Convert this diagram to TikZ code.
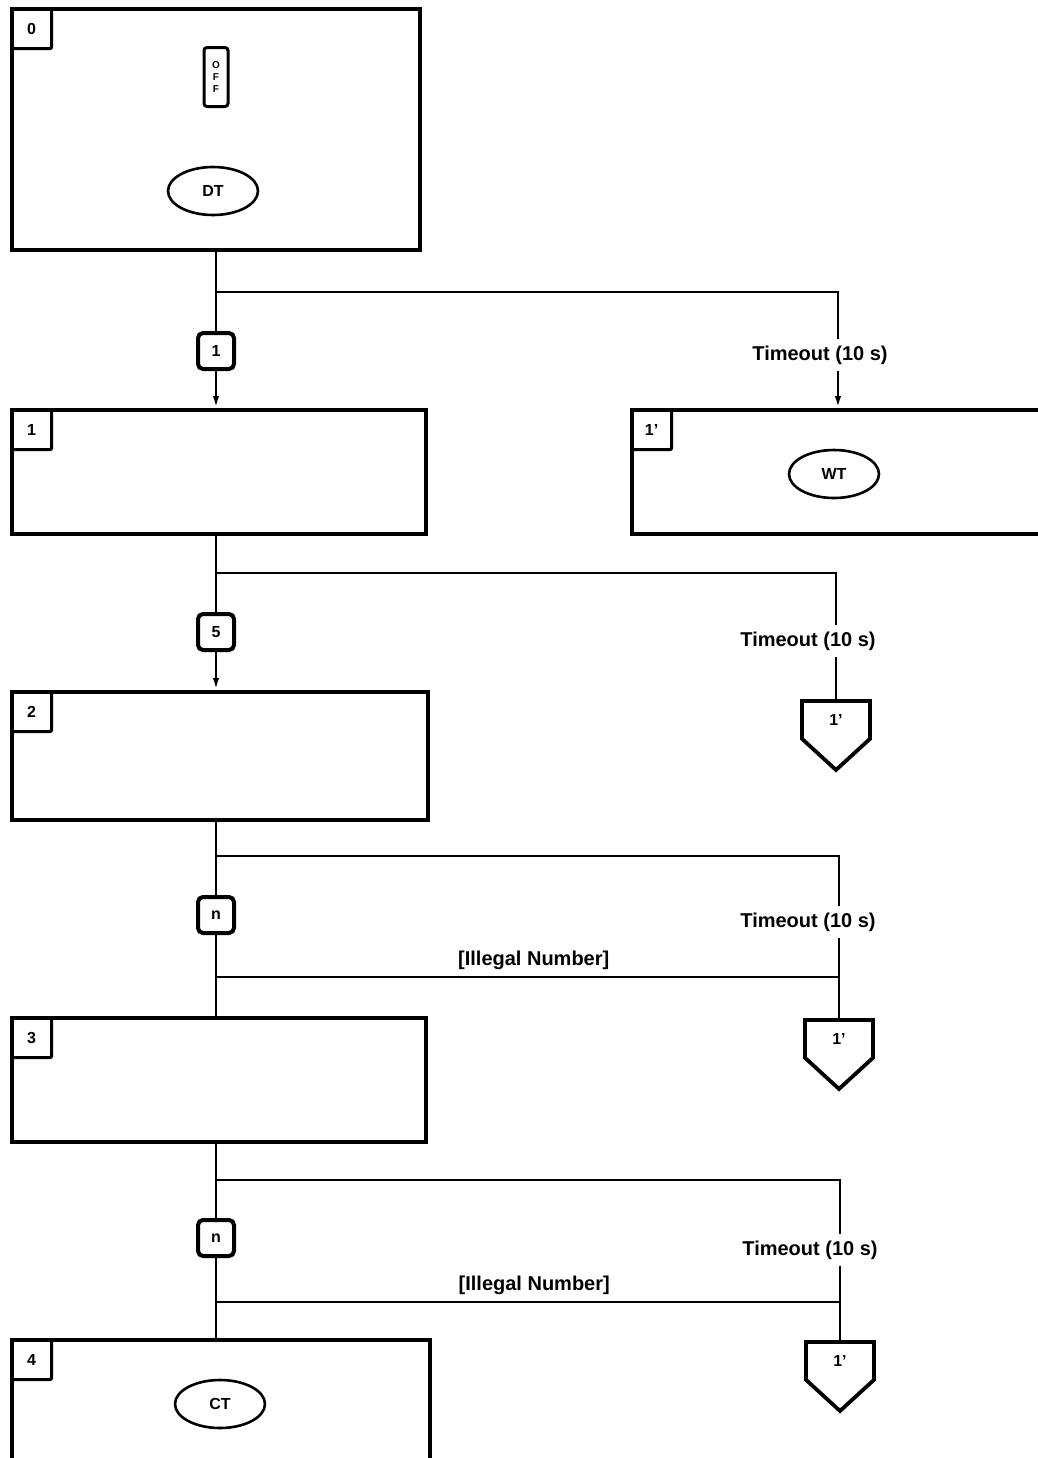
\documentclass[tikz,border=0pt]{standalone}
\usepackage{fontspec}
\setmainfont{Liberation Sans}
\usetikzlibrary{arrows.meta, positioning, shapes.geometric, shapes.symbols}
\tikzset{>={Latex[length=6pt,width=3.2pt]}}

\begin{document}
\begin{tikzpicture}[x=0.5pt, y=-0.5pt, font=\bfseries,
    state/.style={draw, line width=2pt, anchor=north west, inner sep=0pt},
    tag/.style={draw, line width=1.6pt, anchor=north west, minimum width=20pt,
      minimum height=20pt, inner sep=0pt, rounded corners=1pt,
      font=\bfseries\fontsize{8}{9}\selectfont},
    key/.style={draw, line width=2pt, rounded corners=2.5pt, minimum size=18pt,
      inner sep=0pt, font=\bfseries\fontsize{8}{9}\selectfont},
    tone/.style={draw, ellipse, line width=1.3pt, minimum width=45pt,
      minimum height=24pt, inner sep=0pt, font=\bfseries\fontsize{8}{9}\selectfont},
    gotobox/.style={draw, signal, signal to=south, signal from=nowhere,
      signal pointer angle=95, line width=1.9pt, minimum width=34pt,
      minimum height=22pt, inner sep=0pt, anchor=north,
      font=\bfseries\fontsize{8}{9}\selectfont},
    note/.style={inner sep=3pt, font=\bfseries\fontsize{10}{12}\selectfont},
    wire/.style={line width=1.2pt}]

  \useasboundingbox (0,0) rectangle (1038,1458);

  % state 0: on hook
  \node[state, minimum width=204pt, minimum height=120.5pt] (s0) at (10,7) {};
  \node[tag] (t0) at (s0.north west) {0};
  \node[draw, line width=1.5pt, rounded corners=1.5pt, minimum width=12pt,
    minimum height=29.5pt, inner sep=0pt, align=center,
    font=\bfseries\fontsize{5}{6}\selectfont] (off) at (216,77) {O\\F\\F};
  \node[tone] (dt) at (213,191) {DT};

  % state 1 and the waiting state 1'
  \node[state, minimum width=207pt, minimum height=62pt] (s1) at (10,408) {};
  \node[tag] (t1) at (s1.north west) {1};
  \node[state, minimum width=206pt, minimum height=62pt] (s1w) at (630,408) {};
  \node[tag] (t1w) at (s1w.north west) {1'};
  \node[tone] (wt) at (834,474) {WT};

  % states 2 to 4
  \node[state, minimum width=208pt, minimum height=64pt] (s2) at (10,690) {};
  \node[tag] (t2) at (s2.north west) {2};
  \node[state, minimum width=207pt, minimum height=62pt] (s3) at (10,1016) {};
  \node[tag] (t3) at (s3.north west) {3};
  \node[state, minimum width=209pt, minimum height=62pt] (s4) at (10,1338) {};
  \node[tag] (t4) at (s4.north west) {4};
  \node[tone] (ct) at (220,1404) {CT};

  % dialled keys
  \node[key] (k1) at (216,351) {1};
  \node[key] (k2) at (216,632) {5};
  \node[key] (k3) at (216,915) {n};
  \node[key] (k4) at (216,1238) {n};

  % jumps back to 1'
  \node[gotobox] (g2) at (836,699) {1'};
  \node[gotobox] (g3) at (839,1018) {1'};
  \node[gotobox] (g4) at (840,1340) {1'};

  % timeout labels
  \node[note] (m1) at (820,355) {Timeout (10 s)};
  \node[note] (m2) at (808,641) {Timeout (10 s)};
  \node[note] (m3) at (808,922) {Timeout (10 s)};
  \node[note] (m4) at (810,1250) {Timeout (10 s)};

  % branch points on the main line
  \coordinate (c1) at (216,292);
  \coordinate (c2) at (216,573);
  \coordinate (c3) at (216,856);
  \coordinate (i3) at (216,977);
  \coordinate (c4) at (216,1180);
  \coordinate (i4) at (216,1302);

  % 0 -> 1
  \draw[wire] (s0.south -| k1) -- (k1);
  \draw[wire, ->] (k1) -- (k1 |- s1.north);
  \draw[wire] (c1) -| (m1.north -| s1w.north);
  \draw[wire, ->] (m1.south -| s1w.north) -- (s1w.north);

  % 1 -> 2
  \draw[wire] (s1.south -| k2) -- (k2);
  \draw[wire, ->] (k2) -- (k2 |- s2.north);
  \draw[wire] (c2) -| (m2.north -| g2.north);
  \draw[wire] (m2.south -| g2.north) -- (g2.north);

  % 2 -> 3
  \draw[wire] (s2.south -| k3) -- (k3) -- (k3 |- s3.north);
  \draw[wire] (c3) -| (m3.north -| g3.north);
  \draw[wire] (m3.south -| g3.north) -- (g3.north);
  \draw[wire] (i3) -- node[note, above, pos=0.51] {[Illegal Number]} (i3 -| g3.north);

  % 3 -> 4
  \draw[wire] (s3.south -| k4) -- (k4) -- (k4 |- s4.north);
  \draw[wire] (c4) -| (m4.north -| g4.north);
  \draw[wire] (m4.south -| g4.north) -- (g4.north);
  \draw[wire] (i4) -- node[note, above, pos=0.51] {[Illegal Number]} (i4 -| g4.north);

\end{tikzpicture}
\end{document}
